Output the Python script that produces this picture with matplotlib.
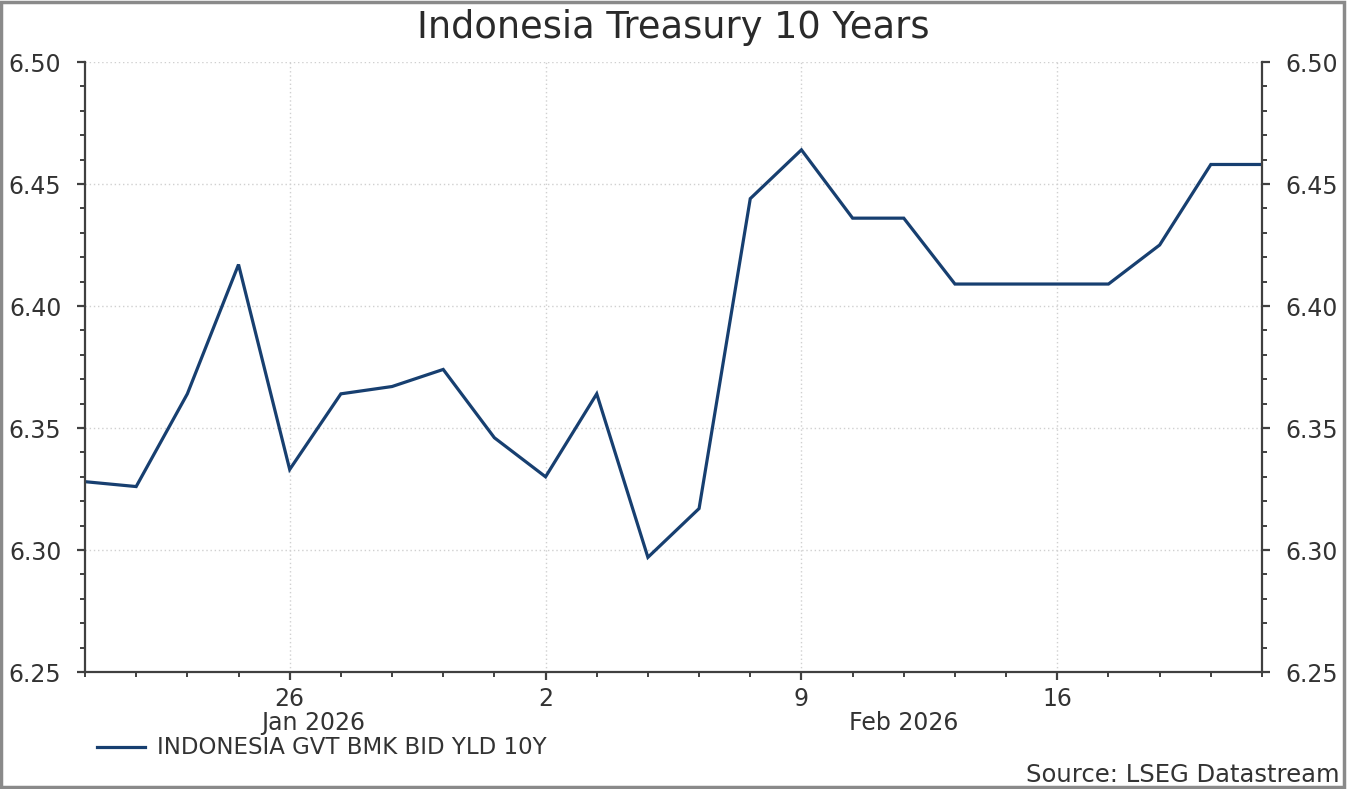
import matplotlib
matplotlib.use("Agg")
import matplotlib.pyplot as plt
from matplotlib.ticker import MultipleLocator, FixedLocator
from matplotlib.patches import Rectangle
from matplotlib.lines import Line2D
import pandas as pd

plt.rcParams['font.family'] = ['DejaVu Sans']

title = "Indonesia Treasury 10 Years"
series_name = "INDONESIA GVT BMK BID YLD 10Y"
source = "Source: LSEG Datastream"

dates = ["2026-01-20", "2026-01-21", "2026-01-22", "2026-01-23",
         "2026-01-26", "2026-01-27", "2026-01-28", "2026-01-29", "2026-01-30",
         "2026-02-02", "2026-02-03", "2026-02-04", "2026-02-05", "2026-02-06",
         "2026-02-09", "2026-02-10", "2026-02-11", "2026-02-12", "2026-02-13",
         "2026-02-16", "2026-02-17", "2026-02-18", "2026-02-19", "2026-02-20"]
yields = [6.328, 6.326, 6.364, 6.417,
          6.333, 6.364, 6.367, 6.374, 6.346,
          6.330, 6.364, 6.297, 6.317, 6.444,
          6.464, 6.436, 6.436, 6.409, 6.409,
          6.409, 6.409, 6.425, 6.458, 6.458]
y_ticks = [6.25, 6.30, 6.35, 6.40, 6.45, 6.50]
month_labels = ["Jan 2026", "Feb 2026"]

dt = pd.to_datetime(dates)
idx = list(range(len(dates)))

W, H = 1347, 789
fig = plt.figure(figsize=(W / 100, H / 100), dpi=100)
ax = fig.add_axes([85 / W, 1 - 672 / H, (1262 - 85) / W, (672 - 62) / H])

line_color = "#173f70"
ax.plot(idx, yields, color=line_color, lw=2.3, solid_joinstyle="miter")

ax.set_xlim(0, len(dates) - 1)
ax.set_ylim(y_ticks[0], y_ticks[-1])

major_idx = [i for i, d in enumerate(dt) if d.weekday() == 0]
ax.xaxis.set_major_locator(FixedLocator(major_idx))
ax.xaxis.set_minor_locator(FixedLocator(idx))
ax.set_xticklabels([str(dt[i].day) for i in major_idx])
ax.yaxis.set_major_locator(FixedLocator(y_ticks))
ax.yaxis.set_minor_locator(MultipleLocator(0.01))
ax.set_yticklabels([f"{v:.2f}" for v in y_ticks])

spine_c = "#404040"
txt_c = "#333333"
for s in ["left", "right", "bottom"]:
    ax.spines[s].set_color(spine_c)
    ax.spines[s].set_linewidth(1.6)
ax.spines["top"].set_visible(False)

ax.tick_params(axis="both", which="major", direction="out", length=6, width=1.6,
               color=spine_c, labelsize=17, labelcolor=txt_c)
ax.tick_params(axis="both", which="minor", direction="out", length=3.5, width=1.4,
               color=spine_c)
ax.tick_params(axis="y", which="both", left=True, right=True, labelleft=True,
               labelright=True)
ax.tick_params(axis="y", which="major", pad=11)
ax.tick_params(axis="x", which="major", pad=5)

ax.grid(True, which="major", color="#d0d0d0", linestyle=(0, (1, 2)), lw=1.0)
ax.set_axisbelow(True)

# month labels
ax.text(4.45, -0.083, month_labels[0], transform=ax.get_xaxis_transform(),
        ha="center", va="center", fontsize=17, color=txt_c)
ax.text(16.0, -0.083, month_labels[1], transform=ax.get_xaxis_transform(),
        ha="center", va="center", fontsize=17, color=txt_c)

fig.text(673 / W, 1 - 27 / H, title, ha="center", va="center", fontsize=26.5,
         color="#2a2a2a")

# legend
fig.add_artist(Line2D([97 / W, 145 / W], [1 - 747 / H, 1 - 747 / H],
                      color=line_color, lw=2.3, transform=fig.transFigure))
fig.text(157 / W, 1 - 747 / H, series_name, ha="left", va="center",
         fontsize=16.5, color=txt_c)

fig.text(1340 / W, 1 - 775 / H, source, ha="right", va="center",
         fontsize=17.5, color=txt_c)

# figure frame
fig.add_artist(Rectangle((0.001, 0.002), 0.997, 0.996, transform=fig.transFigure,
                         fill=False, edgecolor="#8a8a8a", lw=2.5))

fig.savefig("out.png", dpi=100, facecolor="white")
